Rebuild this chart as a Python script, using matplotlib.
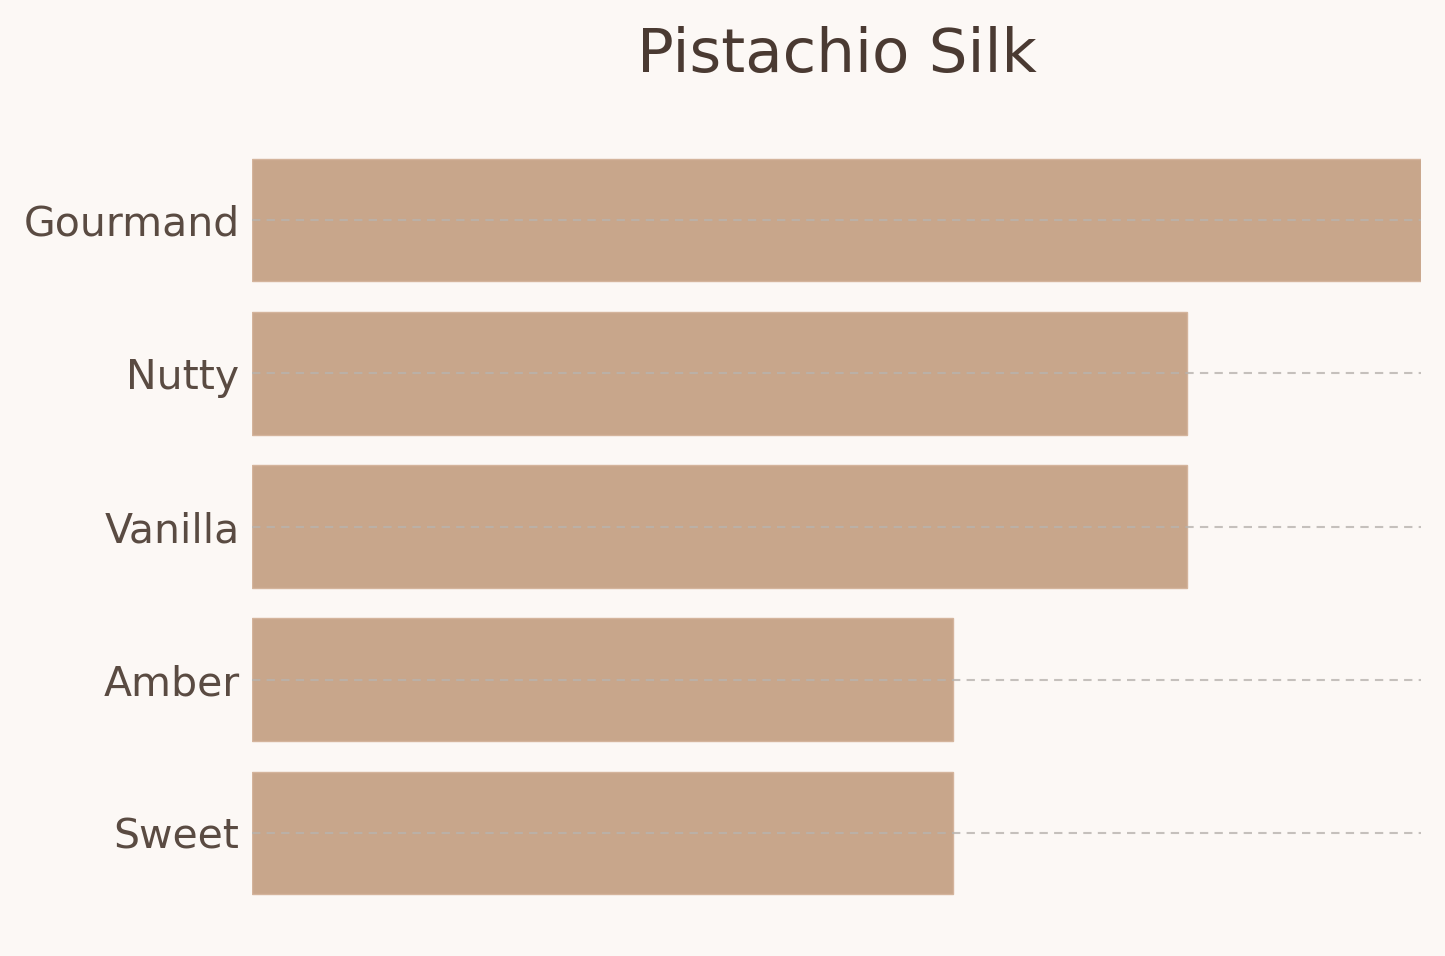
import matplotlib
matplotlib.use("Agg")
import matplotlib.pyplot as plt

# notes and their strengths
notes = ["Gourmand", "Nutty", "Vanilla", "Amber", "Sweet"]
strength = [5, 4, 4, 3, 3]

bg = "#fcf8f5"
bar_col = "#c8a68b"

fig = plt.figure(figsize=(14.45, 9.56), dpi=100, facecolor=bg)
ax = fig.add_axes([0.1744, 0.0262, 0.809, 0.846])
ax.set_facecolor(bg)

ypos = list(range(len(notes)))[::-1]
ax.barh(ypos, strength, height=0.8, color=bar_col, edgecolor="#d4b49c", linewidth=1, zorder=2)
ax.set_xlim(0, 5)
ax.set_ylim(-0.64, 4.64)

ax.set_yticks(ypos)
ax.set_yticklabels(notes, fontsize=29.5, color="#5a4b42")
ax.tick_params(axis="y", length=0, pad=9)
ax.set_xticks([])

ax.yaxis.grid(True, linestyle=(0, (4, 3)), color="#b8b3ae", alpha=0.8, linewidth=1.5, zorder=3)
ax.set_axisbelow(False)
for s in ax.spines.values():
    s.set_visible(False)

ax.set_title("Pistachio Silk", fontsize=44, color="#4a3a32", pad=36)

fig.savefig("out.png", dpi=100, facecolor=bg)
